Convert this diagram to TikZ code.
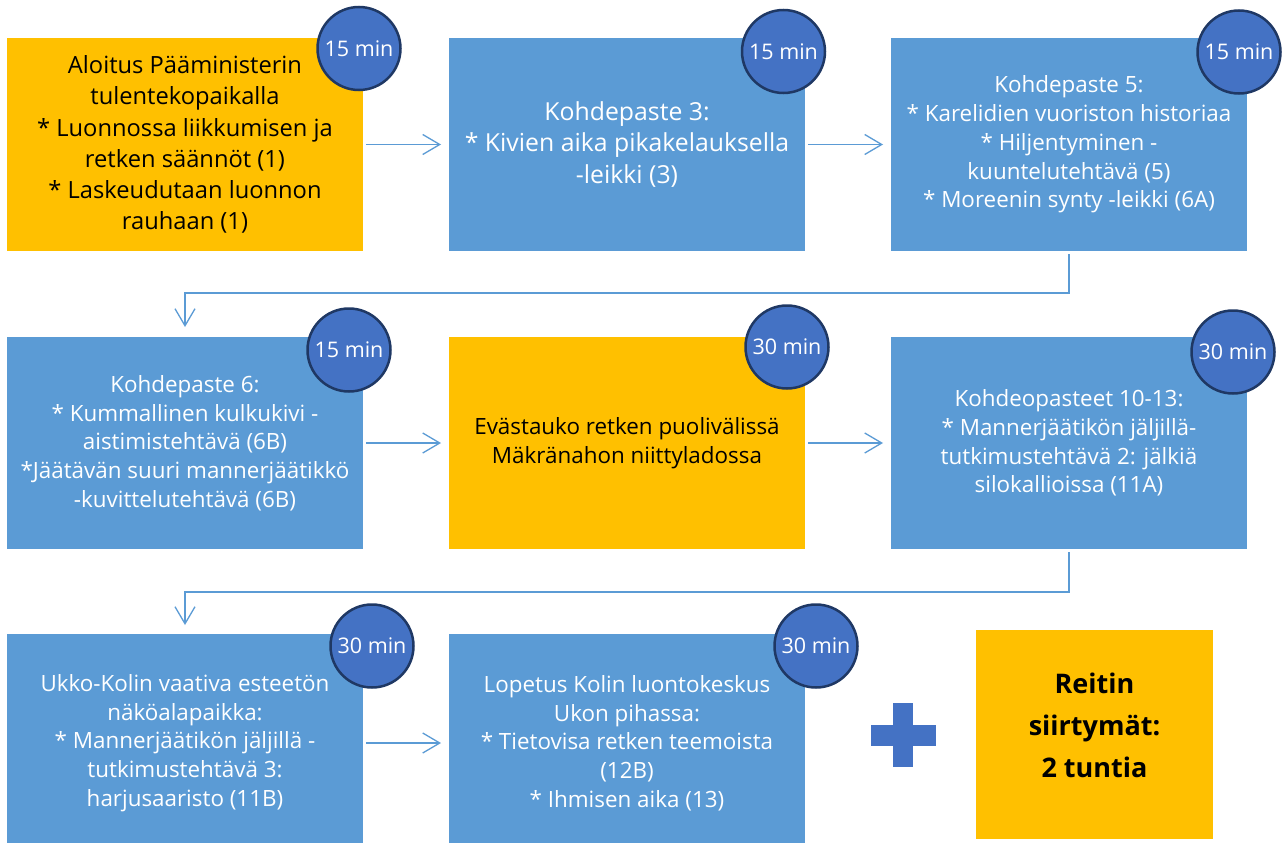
\documentclass[tikz,border=0pt]{standalone}
\usepackage{fontspec}
\setmainfont{Open Sans}
\usepackage{xcolor}
\usetikzlibrary{arrows, arrows.meta}

\definecolor{stopblue}{HTML}{5B9BD5}
\definecolor{stoporange}{HTML}{FFC000}
\definecolor{timerfill}{HTML}{4472C4}
\definecolor{timerline}{HTML}{1F3864}

\tikzset{
  stagebox/.style={rectangle, inner sep=0pt, outer sep=0pt, minimum width=356pt, align=center, font=\fontsize{22.4}{28.7}\selectfont},
  bluestage/.style={stagebox, fill=stopblue, text=white},
  orangestage/.style={stagebox, fill=stoporange, text=black},
  timer/.style={circle, inner sep=0pt, minimum size=83pt, fill=timerfill, draw=timerline, line width=2.5pt, text=white, font=\fontsize{21.5}{24}\selectfont},
  flow/.style={draw=stopblue, line width=1.3pt, -{Straight Barb[length=17pt, width=20pt]}, shorten <=3pt, shorten >=8pt}
}

\begin{document}
\begin{tikzpicture}[x=1pt, y=-1pt]
      \clip (0,0) rectangle (1282,843);
      \fill[white] (0,0) rectangle (1282,843);

      \node[orangestage, font=\fontsize{23.7}{31.2}\selectfont, minimum height=213pt] (s1) at (185,144.5) {Aloitus Pääministerin\\tulentekopaikalla\\{}* Luonnossa liikkumisen ja\\retken säännöt (1)\\{}* Laskeudutaan luonnon\\rauhaan (1)};
      \node[bluestage, font=\fontsize{24.8}{31.5}\selectfont, minimum height=213pt] (s2) at (627,144.5) {Kohdepaste 3:\\{}* Kivien aika pikakelauksella\\-leikki (3)};
      \node[bluestage, minimum height=213pt] (s3) at (1069,144.5) {Kohdepaste 5:\\{}* Karelidien vuoriston historiaa\\{}* Hiljentyminen -\\kuuntelutehtävä (5)\\{}* Moreenin synty -leikki (6A)};

      \node[bluestage, minimum height=212pt] (s4) at (185,443) {Kohdepaste 6:\\{}* Kummallinen kulkukivi -\\aistimistehtävä (6B)\\{}*Jäätävän suuri mannerjäätikkö\\-kuvittelutehtävä (6B)};
      \node[orangestage, minimum height=212pt] (s5) at (627,443) {Evästauko retken puolivälissä\\Mäkränahon niittyladossa};
      \node[bluestage, minimum height=212pt] (s6) at (1069,443) {Kohdeopasteet 10-13:\\{}* Mannerjäätikön jäljillä-\\tutkimustehtävä 2: jälkiä\\silokallioissa (11A)};

      \node[bluestage, minimum height=218pt] (s7) at (185,743) {Ukko-Kolin vaativa esteetön\\näköalapaikka:\\{}* Mannerjäätikön jäljillä -\\tutkimustehtävä 3:\\harjusaaristo (11B)};
      \node[bluestage, minimum height=218pt] (s8) at (627,743) {Lopetus Kolin luontokeskus\\Ukon pihassa:\\{}* Tietovisa retken teemoista\\(12B)\\{}* Ihmisen aika (13)};
      \node[orangestage, minimum width=237pt, minimum height=209pt] (s9) at (1094.5,734.5) {};
      \node[align=center, inner sep=0pt, font=\fontsize{27}{42}\selectfont\bfseries] (s9text) at (1094.5,725) {Reitin\\siirtymät:\\2 tuntia};

      \fill[timerfill] (871,725) rectangle (936,746);
      \fill[timerfill] (893,703) rectangle (913,767);

      \draw[flow] (s1) -- (s2);
      \draw[flow] (s2) -- (s3);
      \draw[flow, shorten >=10pt] (s3.south) -- ++(0,42) -| (s4.north);
      \draw[flow] (s4) -- (s5);
      \draw[flow] (s5) -- (s6);
      \draw[flow, shorten >=9pt] (s6.south) -- ++(0,43) -| (s7.north);
      \draw[flow] (s7) -- (s8);

      \node[timer] (t1) at (359,48.5) {15 min};
      \node[timer] (t2) at (783.5,51.5) {15 min};
      \node[timer] (t3) at (1239,52) {15 min};
      \node[timer] (t4) at (349,350) {15 min};
      \node[timer] (t5) at (787,347) {30 min};
      \node[timer] (t6) at (1233,352) {30 min};
      \node[timer] (t7) at (372,646) {30 min};
      \node[timer] (t8) at (816,646) {30 min};
    \end{tikzpicture}
\end{document}
